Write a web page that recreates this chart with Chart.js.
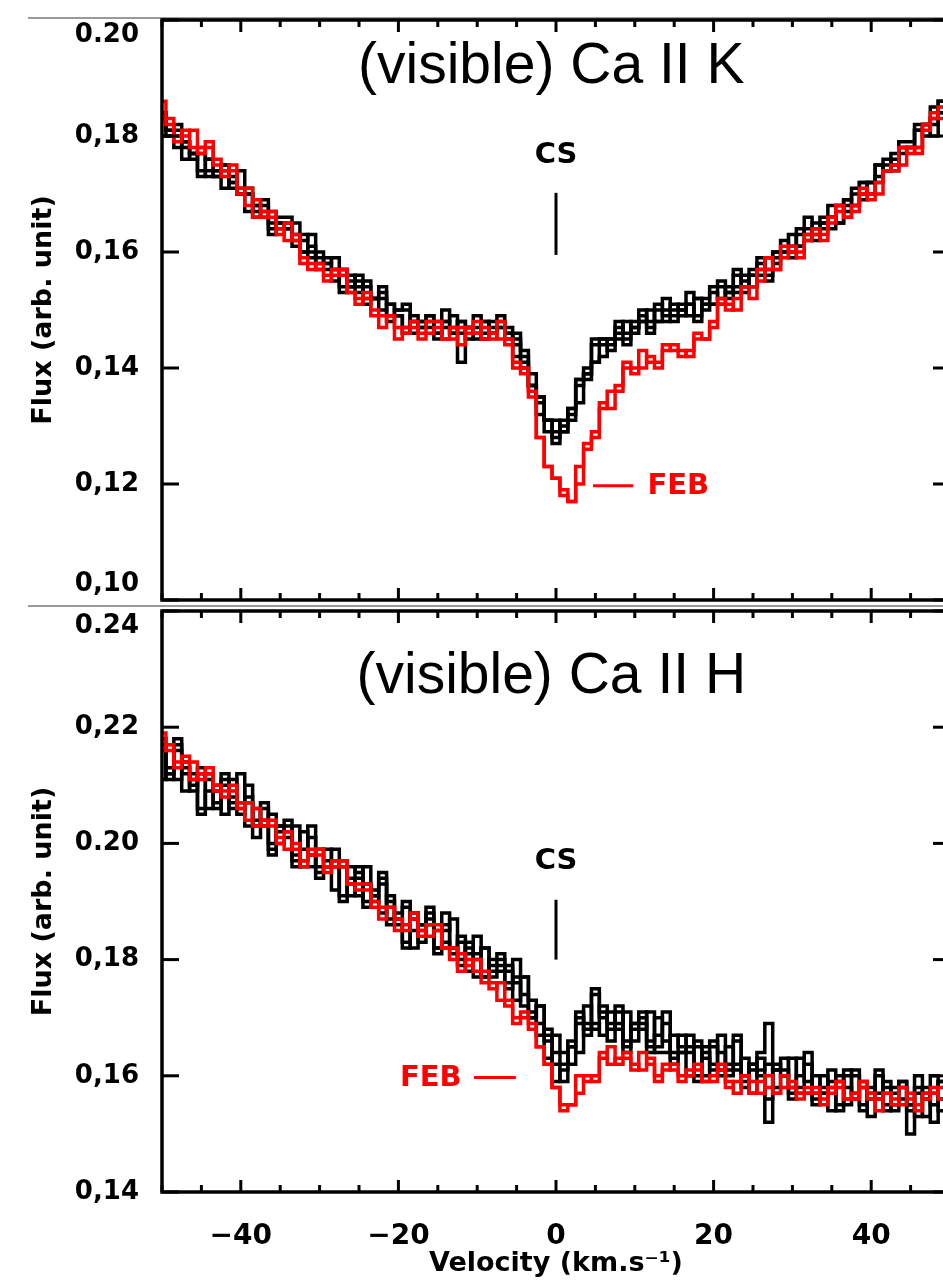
<!DOCTYPE html>
<html>
<head>
<meta charset="utf-8">
<script src="https://cdn.jsdelivr.net/npm/chart.js@4.4.1/dist/chart.umd.min.js"></script>
<style>
  html, body { margin: 0; padding: 0; background: #fff; overflow: hidden; }
  #wrap { position: relative; width: 943px; height: 1286px; overflow: hidden; }
  #wrap canvas { position: absolute; left: 0; top: 0; }
</style>
</head>
<body>
<div id="wrap">
  <canvas id="caK" width="960" height="1286"></canvas>
  <canvas id="caH" width="960" height="1286"></canvas>
</div>
<script>
// velocity grid (km/s), one bin per km/s
const velocity = [-50,-49,-48,-47,-46,-45,-44,-43,-42,-41,-40,-39,-38,-37,-36,-35,-34,-33,-32,-31,
  -30,-29,-28,-27,-26,-25,-24,-23,-22,-21,-20,-19,-18,-17,-16,-15,-14,-13,-12,-11,
  -10,-9,-8,-7,-6,-5,-4,-3,-2,-1,0,1,2,3,4,5,6,7,8,9,
  10,11,12,13,14,15,16,17,18,19,20,21,22,23,24,25,26,27,28,29,
  30,31,32,33,34,35,36,37,38,39,40,41,42,43,44,45,46,47,48,49,50]

// Ca II K spectra (black = other epochs, red = FEB)
const kBlack1 = [0.183,0.180,0.181,0.178,0.176,0.177,0.173,0.174,0.174,0.171,
  0.171,0.171,0.167,0.168,0.164,0.165,0.165,0.162,0.163,0.160,
  0.158,0.159,0.157,0.154,0.156,0.155,0.152,0.152,0.153,0.149,
  0.150,0.150,0.146,0.148,0.148,0.146,0.148,0.149,0.146,0.147,
  0.145,0.148,0.147,0.148,0.145,0.146,0.141,0.137,0.135,0.131,
  0.128,0.130,0.133,0.137,0.138,0.144,0.144,0.144,0.147,0.145,
  0.147,0.149,0.147,0.151,0.149,0.149,0.151,0.151,0.149,0.152,
  0.153,0.152,0.153,0.156,0.154,0.156,0.158,0.156,0.160,0.160,
  0.160,0.164,0.163,0.163,0.166,0.166,0.165,0.169,0.170,0.170,
  0.172,0.175,0.174,0.176,0.178,0.178,0.182,0.182,0.182,0.186,0.186]
const kBlack2 = [0.184,0.181,0.182,0.179,0.177,0.178,0.176,0.173,0.175,0.172,
  0.174,0.170,0.168,0.169,0.165,0.166,0.166,0.163,0.162,0.163,
  0.159,0.158,0.159,0.157,0.154,0.156,0.154,0.152,0.154,0.151,
  0.150,0.151,0.148,0.147,0.149,0.148,0.150,0.147,0.148,0.147,
  0.149,0.146,0.148,0.149,0.146,0.145,0.143,0.139,0.134,0.131,
  0.131,0.129,0.133,0.138,0.139,0.145,0.145,0.145,0.148,0.146,
  0.148,0.150,0.148,0.150,0.152,0.150,0.150,0.153,0.152,0.150,
  0.154,0.154,0.153,0.157,0.155,0.157,0.159,0.157,0.160,0.162,
  0.161,0.163,0.166,0.164,0.165,0.168,0.168,0.167,0.171,0.172,
  0.172,0.175,0.174,0.177,0.179,0.179,0.181,0.182,0.185,0.184,0.187]
const kBlack3 = [0.180,0.180,0.180,0.176,0.177,0.173,0.174,0.174,0.171,0.173,
  0.170,0.167,0.168,0.166,0.163,0.165,0.164,0.161,0.160,0.161,
  0.157,0.157,0.157,0.153,0.154,0.154,0.151,0.152,0.152,0.148,
  0.149,0.146,0.148,0.147,0.147,0.145,0.148,0.146,0.141,0.147,
  0.146,0.145,0.146,0.147,0.146,0.142,0.142,0.137,0.132,0.131,
  0.127,0.129,0.132,0.134,0.140,0.141,0.142,0.145,0.145,0.144,
  0.147,0.148,0.146,0.148,0.150,0.148,0.149,0.151,0.148,0.151,
  0.151,0.151,0.154,0.153,0.153,0.156,0.156,0.155,0.159,0.160,
  0.159,0.161,0.164,0.162,0.164,0.166,0.165,0.169,0.168,0.169,
  0.172,0.172,0.175,0.174,0.178,0.178,0.178,0.182,0.180,0.184,0.186]
const kBlack4 = [0.184,0.181,0.178,0.179,0.177,0.174,0.176,0.173,0.175,0.172,
  0.170,0.170,0.166,0.167,0.167,0.164,0.164,0.165,0.160,0.159,
  0.160,0.158,0.155,0.157,0.155,0.153,0.155,0.152,0.150,0.151,
  0.149,0.147,0.149,0.148,0.149,0.146,0.147,0.146,0.148,0.145,
  0.147,0.148,0.146,0.147,0.147,0.144,0.140,0.137,0.135,0.129,
  0.129,0.131,0.131,0.138,0.139,0.141,0.145,0.143,0.146,0.148,
  0.146,0.148,0.150,0.148,0.148,0.151,0.150,0.149,0.152,0.151,
  0.151,0.155,0.152,0.154,0.156,0.154,0.157,0.159,0.158,0.160,
  0.163,0.161,0.162,0.165,0.165,0.164,0.168,0.168,0.168,0.172,
  0.170,0.173,0.176,0.175,0.177,0.178,0.181,0.180,0.183,0.186,0.185]
const kRed1 = [0.183,0.183,0.179,0.180,0.181,0.177,0.179,0.176,0.173,0.174,
  0.171,0.168,0.169,0.166,0.167,0.164,0.162,0.163,0.158,0.157,
  0.158,0.156,0.156,0.157,0.153,0.151,0.152,0.150,0.147,0.149,
  0.147,0.146,0.148,0.146,0.146,0.147,0.145,0.145,0.147,0.146,
  0.148,0.145,0.146,0.145,0.145,0.140,0.139,0.136,0.128,0.123,
  0.121,0.118,0.117,0.120,0.127,0.128,0.133,0.136,0.136,0.141,
  0.140,0.140,0.142,0.140,0.143,0.144,0.143,0.142,0.146,0.145,
  0.147,0.151,0.151,0.150,0.154,0.154,0.155,0.159,0.157,0.159,
  0.161,0.159,0.162,0.164,0.163,0.165,0.168,0.166,0.167,0.170,
  0.170,0.170,0.174,0.175,0.175,0.178,0.177,0.181,0.184,0.183,0.185]
const kRed2 = [0.186,0.182,0.180,0.181,0.178,0.178,0.178,0.175,0.174,0.175,
  0.170,0.171,0.166,0.167,0.166,0.163,0.165,0.162,0.159,0.158,
  0.157,0.155,0.157,0.156,0.153,0.152,0.153,0.149,0.149,0.149,
  0.145,0.147,0.147,0.145,0.148,0.148,0.145,0.147,0.144,0.147,
  0.146,0.147,0.145,0.148,0.144,0.141,0.140,0.135,0.128,0.123,
  0.121,0.119,0.117,0.123,0.126,0.129,0.134,0.133,0.137,0.140,
  0.139,0.143,0.141,0.141,0.144,0.143,0.142,0.143,0.145,0.145,
  0.148,0.152,0.150,0.152,0.154,0.152,0.157,0.157,0.157,0.161,
  0.160,0.160,0.163,0.163,0.162,0.166,0.167,0.166,0.168,0.171,
  0.169,0.172,0.174,0.174,0.178,0.177,0.178,0.182,0.183,0.185,0.184]

// Ca II H spectra
const hBlack1 = [0.216,0.211,0.217,0.212,0.209,0.212,0.206,0.209,0.210,0.206,
  0.207,0.210,0.203,0.206,0.199,0.202,0.203,0.197,0.202,0.198,
  0.195,0.199,0.196,0.191,0.196,0.195,0.190,0.191,0.194,0.187,
  0.188,0.189,0.182,0.186,0.187,0.182,0.185,0.187,0.180,0.182,
  0.177,0.182,0.179,0.180,0.175,0.180,0.174,0.170,0.172,0.167,
  0.162,0.162,0.166,0.169,0.167,0.174,0.170,0.168,0.171,0.165,
  0.168,0.170,0.165,0.170,0.166,0.163,0.167,0.164,0.160,0.165,
  0.165,0.161,0.162,0.166,0.159,0.161,0.163,0.156,0.162,0.160,
  0.157,0.163,0.159,0.156,0.160,0.158,0.154,0.160,0.160,0.155,
  0.157,0.161,0.155,0.157,0.158,0.150,0.160,0.157,0.155,0.159,0.158]
const hBlack2 = [0.217,0.212,0.218,0.213,0.210,0.213,0.211,0.206,0.211,0.207,
  0.212,0.207,0.204,0.207,0.200,0.203,0.204,0.198,0.199,0.203,
  0.196,0.196,0.199,0.196,0.191,0.196,0.193,0.190,0.195,0.190,
  0.187,0.190,0.185,0.183,0.188,0.185,0.188,0.182,0.183,0.181,
  0.184,0.177,0.180,0.181,0.176,0.177,0.177,0.173,0.169,0.166,
  0.167,0.159,0.165,0.170,0.168,0.175,0.171,0.169,0.172,0.166,
  0.169,0.171,0.166,0.167,0.171,0.164,0.164,0.167,0.165,0.160,
  0.166,0.164,0.161,0.167,0.160,0.162,0.164,0.169,0.161,0.163,
  0.158,0.160,0.164,0.157,0.157,0.161,0.159,0.155,0.161,0.158,
  0.156,0.160,0.154,0.158,0.159,0.155,0.157,0.156,0.160,0.154,0.159]
const hBlack3 = [0.211,0.212,0.216,0.209,0.212,0.205,0.209,0.210,0.205,0.211,
  0.206,0.203,0.206,0.203,0.198,0.203,0.202,0.196,0.197,0.201,
  0.194,0.196,0.197,0.190,0.193,0.194,0.189,0.192,0.193,0.186,
  0.187,0.182,0.187,0.185,0.186,0.181,0.186,0.182,0.179,0.183,
  0.180,0.177,0.178,0.179,0.178,0.173,0.177,0.171,0.167,0.168,
  0.159,0.161,0.165,0.164,0.172,0.169,0.167,0.171,0.168,0.164,
  0.169,0.169,0.164,0.165,0.169,0.162,0.164,0.165,0.159,0.164,
  0.162,0.160,0.165,0.161,0.158,0.162,0.160,0.152,0.161,0.161,
  0.156,0.158,0.162,0.155,0.157,0.159,0.155,0.161,0.157,0.154,
  0.158,0.156,0.158,0.154,0.159,0.155,0.153,0.158,0.152,0.156,0.159]
const hBlack4 = [0.218,0.213,0.211,0.214,0.211,0.206,0.212,0.207,0.212,0.208,
  0.205,0.208,0.201,0.204,0.205,0.200,0.201,0.203,0.196,0.196,
  0.199,0.197,0.192,0.197,0.194,0.191,0.196,0.191,0.188,0.191,
  0.186,0.183,0.188,0.186,0.189,0.182,0.183,0.181,0.184,0.178,
  0.181,0.182,0.177,0.178,0.179,0.176,0.172,0.170,0.172,0.163,
  0.164,0.164,0.162,0.171,0.169,0.168,0.172,0.166,0.169,0.171,
  0.166,0.168,0.171,0.164,0.164,0.167,0.165,0.160,0.166,0.163,
  0.161,0.167,0.160,0.162,0.163,0.157,0.161,0.162,0.158,0.160,
  0.163,0.157,0.157,0.160,0.158,0.154,0.160,0.158,0.156,0.159,
  0.153,0.157,0.159,0.155,0.156,0.154,0.158,0.153,0.157,0.159,0.156]
const hRed1 = [0.216,0.217,0.213,0.214,0.214,0.211,0.213,0.210,0.208,0.209,
  0.207,0.204,0.206,0.203,0.204,0.201,0.199,0.200,0.196,0.198,
  0.199,0.196,0.196,0.197,0.193,0.192,0.192,0.190,0.187,0.189,
  0.187,0.185,0.188,0.185,0.184,0.185,0.182,0.180,0.181,0.179,
  0.180,0.176,0.176,0.173,0.173,0.169,0.170,0.169,0.165,0.162,
  0.158,0.154,0.155,0.157,0.160,0.159,0.163,0.165,0.162,0.164,
  0.162,0.161,0.163,0.159,0.161,0.162,0.160,0.160,0.162,0.159,
  0.159,0.161,0.159,0.157,0.160,0.159,0.157,0.160,0.157,0.158,
  0.159,0.156,0.157,0.158,0.156,0.157,0.159,0.156,0.156,0.158,
  0.157,0.154,0.157,0.156,0.155,0.157,0.154,0.156,0.158,0.156,0.157]
const hRed2 = [0.219,0.216,0.214,0.215,0.211,0.212,0.212,0.209,0.209,0.210,
  0.206,0.207,0.203,0.204,0.203,0.200,0.202,0.199,0.197,0.199,
  0.198,0.195,0.197,0.196,0.193,0.193,0.193,0.189,0.189,0.189,
  0.185,0.186,0.187,0.184,0.186,0.186,0.182,0.182,0.178,0.180,
  0.178,0.178,0.175,0.176,0.172,0.170,0.171,0.168,0.165,0.162,
  0.158,0.155,0.155,0.160,0.159,0.160,0.164,0.162,0.163,0.163,
  0.161,0.164,0.162,0.160,0.162,0.161,0.159,0.161,0.161,0.159,
  0.160,0.162,0.158,0.159,0.160,0.157,0.159,0.158,0.157,0.160,
  0.158,0.157,0.158,0.157,0.155,0.158,0.158,0.156,0.157,0.159,
  0.156,0.156,0.157,0.155,0.158,0.156,0.155,0.157,0.157,0.158,0.156]

// axis ticks ('' lines nudge the end labels inside the frame)
const xTickValues = [-40, -20, 0, 20, 40]
const xTickLabels = ['\u221240', '\u221220', '0', '20', '40']
const kYTickValues = [0.10, 0.12, 0.14, 0.16, 0.18, 0.20]
const kYTickLabels = [['0,10', ''], '0,12', '0,14', '0,16', '0,18', ['', '0.20']]
const hYTickValues = [0.14, 0.16, 0.18, 0.20, 0.22, 0.24]
const hYTickLabels = ['0,14', '0,16', '0,18', '0.20', '0,22', ['', '0.24']]

Chart.defaults.font.family = 'DejaVu Sans'
Chart.defaults.color = '#000'

const spectrum = (values, color) => ({
    data: values.map((v, i) => ({ x: velocity[i], y: v })),
    borderColor: color,
    borderWidth: 3.5,
    stepped: 'middle',
    pointRadius: 0,
    fill: false
})

// frame with inward ticks, panel title and CS / FEB marks
const panelDecor = {
    id: 'panelDecor',
    afterDatasetsDraw(chart, args, o) {
        const { ctx, chartArea: a, scales: { x, y } } = chart
        const seg = (x1, y1, x2, y2) => { ctx.beginPath(); ctx.moveTo(x1, y1); ctx.lineTo(x2, y2); ctx.stroke() }
        ctx.save()
        if (o.sheetLines) {
            ctx.strokeStyle = '#777'
            ctx.lineWidth = 1.5
            seg(28, a.top - 2, a.right, a.top - 2)
            seg(28, a.bottom + 6, 960, a.bottom + 6)
        }
        ctx.strokeStyle = '#000'
        ctx.lineWidth = 3.5
        ctx.strokeRect(a.left, a.top, a.right - a.left, a.bottom - a.top)
        ctx.lineWidth = 3
        x.ticks.forEach(t => {
            const px = x.getPixelForValue(t.value)
            const len = t.value % 20 === 0 ? 12 : 7
            seg(px, a.bottom, px, a.bottom - len)
            seg(px, a.top, px, a.top + len)
        })
        y.ticks.forEach(t => {
            const py = y.getPixelForValue(t.value)
            seg(a.left, py, a.left + 17, py)
            seg(a.right, py, a.right - 17, py)
        })
        // panel title
        ctx.fillStyle = '#000'
        ctx.font = '57px "Liberation Sans"'
        ctx.textAlign = 'center'
        ctx.textBaseline = 'alphabetic'
        ctx.fillText(o.title, x.getPixelForValue(-0.6), a.top + o.titleDy)
        // CS mark
        const x0 = x.getPixelForValue(0)
        ctx.font = 'bold 29px "DejaVu Sans"'
        ctx.textBaseline = 'middle'
        ctx.fillText('CS', x0, y.getPixelForValue(o.csText))
        seg(x0, y.getPixelForValue(o.csLine[0]), x0, y.getPixelForValue(o.csLine[1]))
        // FEB mark
        ctx.strokeStyle = '#ff0000'
        ctx.fillStyle = '#ff0000'
        const fy = y.getPixelForValue(o.feb.y)
        seg(x.getPixelForValue(o.feb.line[0]), fy, x.getPixelForValue(o.feb.line[1]), fy)
        ctx.textAlign = 'left'
        ctx.fillText('FEB', x.getPixelForValue(o.feb.text), fy + 1)
        ctx.restore()
    }
}

function panel(canvasId, datasets, yMin, yMax, yVals, yLabels, showX, pad, decor) {
    return new Chart(document.getElementById(canvasId), {
        type: 'line',
        data: { datasets },
        options: {
            responsive: false,
            animation: false,
            layout: { padding: pad, autoPadding: false },
            plugins: { legend: { display: false }, tooltip: { enabled: false }, panelDecor: decor },
            scales: {
                x: {
                    type: 'linear', min: -50, max: 50,
                    grid: { display: false }, border: { display: false },
                    ticks: {
                        display: showX, stepSize: 5, autoSkip: false, maxRotation: 0, padding: 20,
                        font: { size: 28, weight: 'bold' },
                        callback: v => { const i = xTickValues.indexOf(v); return i < 0 ? '' : xTickLabels[i] }
                    },
                    title: {
                        display: showX, text: 'Velocity (km.s\u207B\u00B9)',
                        font: { size: 27, weight: 'bold' }, padding: { top: 0, bottom: 6 }
                    },
                    afterFit: s => { s.height = showX ? 94 : 0; s.paddingLeft = 0; s.paddingRight = 0 }
                },
                y: {
                    min: yMin, max: yMax,
                    grid: { display: false }, border: { display: false },
                    ticks: {
                        stepSize: 0.02, padding: 15,
                        font: { size: 26, weight: 'bold' },
                        callback: v => { const i = yVals.findIndex(t => Math.abs(t - v) < 1e-6); return i < 0 ? '' : yLabels[i] }
                    },
                    title: {
                        display: true, text: 'Flux (arb. unit)',
                        font: { size: 27, weight: 'bold' }, padding: { top: 28, bottom: 0 }
                    },
                    afterFit: s => { s.width = 162; s.paddingTop = 0; s.paddingBottom = 0 }
                }
            }
        },
        plugins: [panelDecor]
    })
}

panel('caK', [
    spectrum(kRed1, '#ff0000'), spectrum(kRed2, '#ff0000'),
    spectrum(kBlack1, '#000'), spectrum(kBlack2, '#000'), spectrum(kBlack3, '#000'), spectrum(kBlack4, '#000')
], 0.10, 0.20, kYTickValues, kYTickLabels, false,
    { top: 20, right: 10, bottom: 686, left: 0 },
    { title: '(visible) Ca II K', titleDy: 63, csText: 0.1766, csLine: [0.1595, 0.1702],
      feb: { y: 0.1197, line: [4.7, 9.8], text: 11.6 }, sheetLines: true })

panel('caH', [
    spectrum(hRed1, '#ff0000'), spectrum(hRed2, '#ff0000'),
    spectrum(hBlack1, '#000'), spectrum(hBlack2, '#000'), spectrum(hBlack3, '#000'), spectrum(hBlack4, '#000')
], 0.14, 0.24, hYTickValues, hYTickLabels, true,
    { top: 611, right: 10, bottom: 0, left: 0 },
    { title: '(visible) Ca II H', titleDy: 82, csText: 0.1969, csLine: [0.1800, 0.1903],
      feb: { y: 0.1597, line: [-10.4, -5.1], text: -19.8 }, sheetLines: false })
</script>
</body>
</html>
